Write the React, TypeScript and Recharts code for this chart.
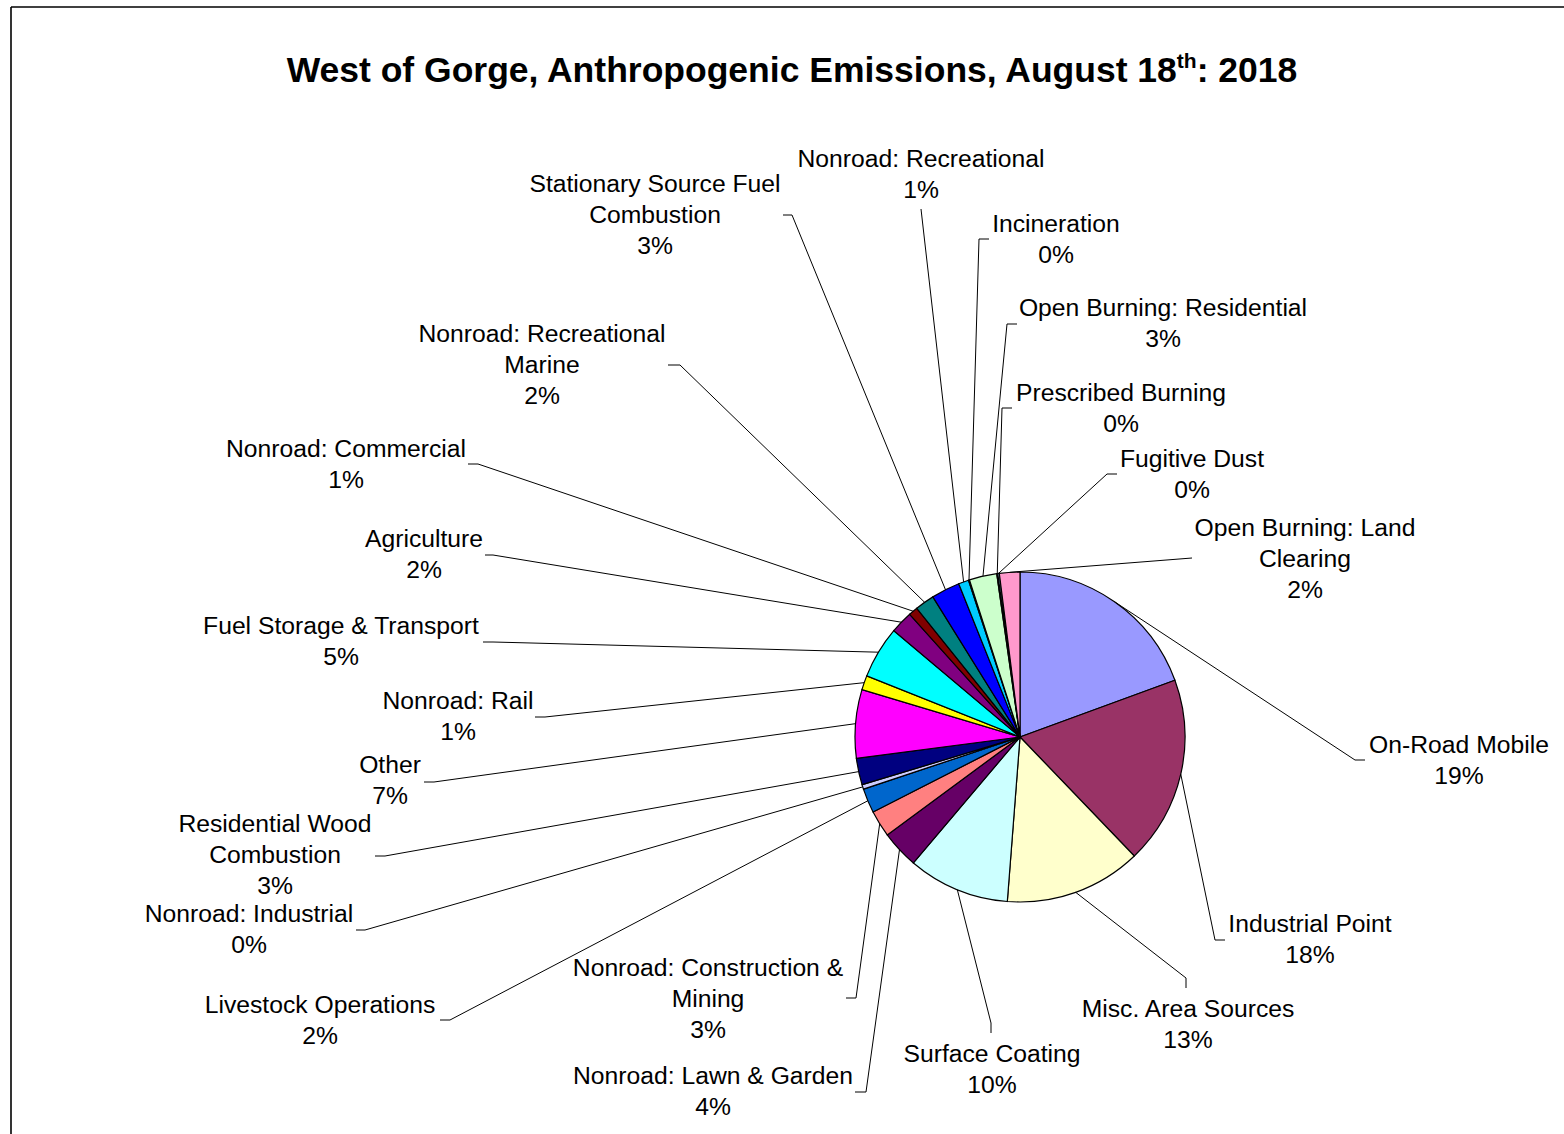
import React from 'react';
import { PieChart, Pie, Cell } from 'recharts';

// Emission source categories, clockwise from 12 o'clock
const CATEGORIES = [
  'On-Road Mobile',
  'Industrial Point',
  'Misc. Area Sources',
  'Surface Coating',
  'Nonroad: Lawn & Garden',
  'Nonroad: Construction & Mining',
  'Livestock Operations',
  'Nonroad: Industrial',
  'Residential Wood Combustion',
  'Other',
  'Nonroad: Rail',
  'Fuel Storage & Transport',
  'Agriculture',
  'Nonroad: Commercial',
  'Nonroad: Recreational Marine',
  'Stationary Source Fuel Combustion',
  'Nonroad: Recreational',
  'Incineration',
  'Open Burning: Residential',
  'Prescribed Burning',
  'Fugitive Dust',
  'Open Burning: Land Clearing',
];

// share of total anthropogenic emissions (%)
const SHARES = [
  19.4, 18.4, 13.4, 9.95, 3.7, 2.6, 2.4, 0.45, 2.6, 6.7, 1.4,
  5.1, 2.2, 0.9, 1.9, 2.8, 1.0, 0.1, 2.7, 0.1, 0.15, 2.0,
];

// classic spreadsheet chart palette
const COLORS = [
  '#9999FF', '#993366', '#FFFFCC', '#CCFFFF', '#660066', '#FF8080',
  '#0066CC', '#CCCCFF', '#000080', '#FF00FF', '#FFFF00', '#00FFFF',
  '#800080', '#800000', '#008080', '#0000FF', '#00CCFF', '#CCFFFF',
  '#CCFFCC', '#FFFF99', '#99CCFF', '#FF99CC',
];

const data = CATEGORIES.map((name, i) => ({ name, value: SHARES[i] }));

// label placement: text centre x / first baseline y, leader elbow (ex,ey),
// short tick end (tx,ty), and word index where the name wraps
const LABEL_POS = [
  { x: 1459, y: 753, ex: 1355, ey: 760, tx: 1365, ty: 760, wrap: 0 },
  { x: 1310, y: 932, ex: 1215, ey: 940, tx: 1225, ty: 940, wrap: 0 },
  { x: 1188, y: 1017, ex: 1186, ey: 978, tx: 1186, ty: 988, wrap: 0 },
  { x: 992, y: 1062, ex: 991, ey: 1023, tx: 991, ty: 1033, wrap: 0 },
  { x: 713, y: 1084, ex: 866, ey: 1092, tx: 855, ty: 1092, wrap: 0 },
  { x: 708, y: 976, ex: 856, ey: 998, tx: 846, ty: 998, wrap: 3 },
  { x: 320, y: 1013, ex: 450, ey: 1020, tx: 440, ty: 1020, wrap: 0 },
  { x: 249, y: 922, ex: 365, ey: 930, tx: 356, ty: 930, wrap: 0 },
  { x: 275, y: 832, ex: 385, ey: 856, tx: 375, ty: 856, wrap: 2 },
  { x: 390, y: 773, ex: 434, ey: 782, tx: 424, ty: 782, wrap: 0 },
  { x: 458, y: 709, ex: 545, ey: 717, tx: 535, ty: 717, wrap: 0 },
  { x: 341, y: 634, ex: 493, ey: 642, tx: 483, ty: 642, wrap: 0 },
  { x: 424, y: 547, ex: 493, ey: 555, tx: 485, ty: 555, wrap: 0 },
  { x: 346, y: 457, ex: 478, ey: 464, tx: 468, ty: 464, wrap: 0 },
  { x: 542, y: 342, ex: 680, ey: 365, tx: 668, ty: 365, wrap: 2 },
  { x: 655, y: 192, ex: 792, ey: 215, tx: 783, ty: 215, wrap: 3 },
  { x: 921, y: 167, ex: 921, ey: 209, tx: 921, ty: 209, wrap: 0 },
  { x: 1056, y: 232, ex: 979, ey: 239, tx: 989, ty: 239, wrap: 0 },
  { x: 1163, y: 316, ex: 1007, ey: 324, tx: 1017, ty: 324, wrap: 0 },
  { x: 1121, y: 401, ex: 1002, ey: 408, tx: 1012, ty: 408, wrap: 0 },
  { x: 1192, y: 467, ex: 1107, ey: 474, tx: 1117, ty: 474, wrap: 0 },
  { x: 1305, y: 536, ex: 1192, ey: 558, tx: 1192, ty: 558, wrap: 3 },
];

const FONT = "'Liberation Sans', Arial, Helvetica, sans-serif";
const RADIAN = Math.PI / 180;

function renderLabel(props: any) {
  const { cx, cy, midAngle, outerRadius, percent, index } = props;
  const pos = LABEL_POS[index];
  const sx = cx + outerRadius * Math.cos(-midAngle * RADIAN);
  const sy = cy + outerRadius * Math.sin(-midAngle * RADIAN);
  const words = CATEGORIES[index].split(' ');
  const lines = pos.wrap
    ? [words.slice(0, pos.wrap).join(' '), words.slice(pos.wrap).join(' ')]
    : [CATEGORIES[index]];
  lines.push(`${Math.round(percent * 100)}%`);
  return (
    <g key={`lbl-${index}`}>
      <polyline
        points={`${sx},${sy} ${pos.ex},${pos.ey} ${pos.tx},${pos.ty}`}
        fill="none"
        stroke="#000"
        strokeWidth={1}
      />
      <text x={pos.x} y={pos.y} textAnchor="middle" fontSize={24.7} fontFamily={FONT} fill="#000">
        {lines.map((line, k) => (
          <tspan key={k} x={pos.x} dy={k === 0 ? 0 : 31}>
            {line}
          </tspan>
        ))}
      </text>
    </g>
  );
}

export default function App() {
  return (
    <div
      style={{
        position: 'absolute',
        left: 0,
        top: 0,
        width: 1564,
        height: 1134,
        overflow: 'hidden',
        background: '#fff',
      }}
    >
      <svg width={1564} height={1134} style={{ position: 'absolute', left: 0, top: 0 }}>
        <line x1={11} y1={7} x2={1564} y2={7} stroke="#000" strokeWidth={1.6} />
        <line x1={11} y1={7} x2={11} y2={1134} stroke="#000" strokeWidth={1.6} />
        <text x={792} y={82} textAnchor="middle" fontSize={35.5} fontWeight="bold" fontFamily={FONT} fill="#000">
          West of Gorge, Anthropogenic Emissions, August 18
          <tspan dy={-14} fontSize={21}>th</tspan>
          <tspan dy={14}>: 2018</tspan>
        </text>
      </svg>
      <div style={{ position: 'absolute', left: 0, top: 0 }}>
        <PieChart width={1564} height={1134} margin={{ top: 0, right: 0, bottom: 0, left: 0 }}>
          <Pie
            data={data}
            dataKey="value"
            nameKey="name"
            cx={1020}
            cy={737}
            outerRadius={165}
            startAngle={90}
            endAngle={-270}
            stroke="#000"
            strokeWidth={1.2}
            isAnimationActive={false}
            labelLine={false}
            label={renderLabel}
          >
            {data.map((d, i) => (
              <Cell key={d.name} fill={COLORS[i]} />
            ))}
          </Pie>
        </PieChart>
      </div>
    </div>
  );
}
